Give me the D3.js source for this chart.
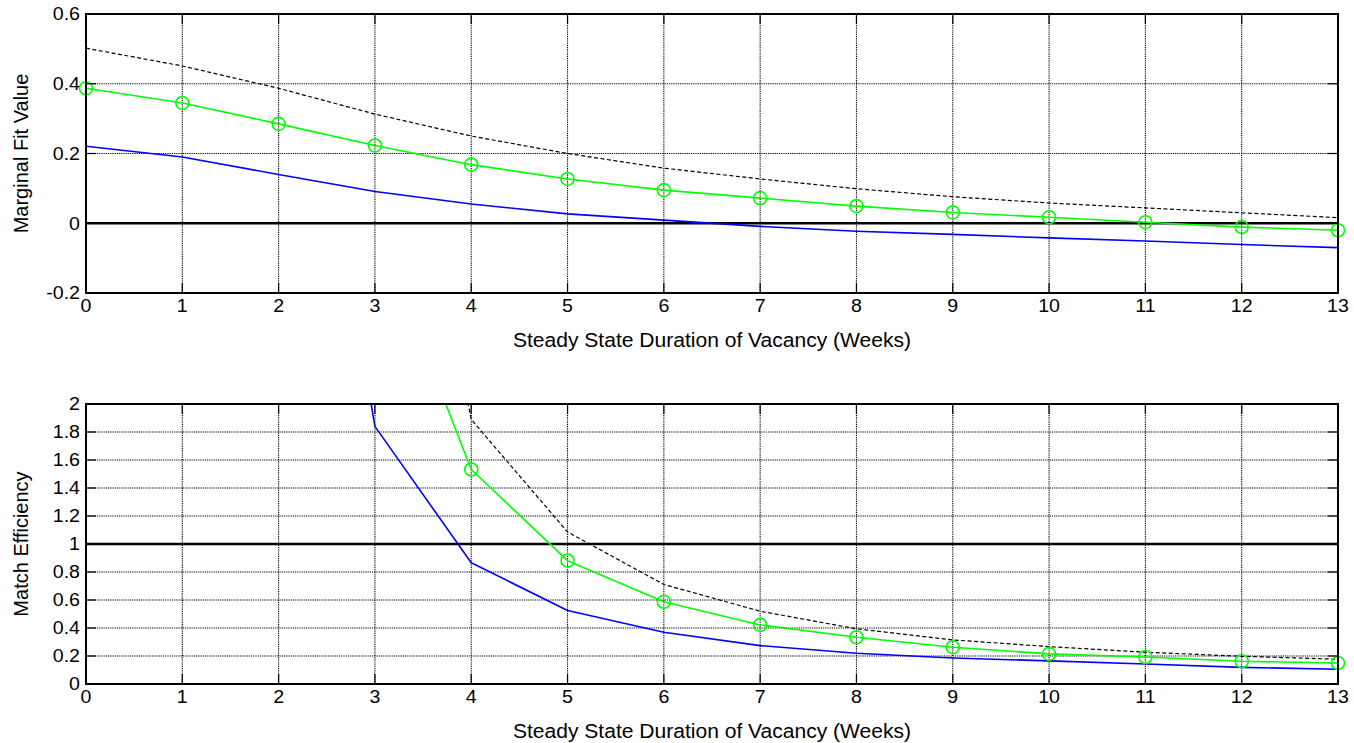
<!DOCTYPE html>
<html>
<head>
<meta charset="utf-8">
<script src="https://cdn.jsdelivr.net/npm/d3@7"></script>
<style>
  html, body { margin: 0; padding: 0; background: #fff; }
  svg { display: block; }
  text { font-family: "Liberation Sans", Arial, sans-serif; fill: #000; }
</style>
</head>
<body>
<svg id="chart" width="1354" height="743"></svg>
<script>
// Steady state duration of vacancy, in weeks
const weeks = [0, 1, 2, 3, 4, 5, 6, 7, 8, 9, 10, 11, 12, 13];

// Marginal fit value
const fitBlue  = [0.221, 0.190, 0.140, 0.091, 0.055, 0.027, 0.009, -0.009, -0.023, -0.032, -0.042, -0.051, -0.061, -0.070];
const fitGreen = [0.387, 0.345, 0.285, 0.223, 0.168, 0.127, 0.095, 0.072, 0.049, 0.031, 0.017, 0.003, -0.011, -0.020];
const fitBlack = [0.502, 0.451, 0.387, 0.313, 0.250, 0.200, 0.158, 0.127, 0.099, 0.076, 0.058, 0.044, 0.030, 0.016];

// Match efficiency
const effBlue  = [30, 14, 5.9, 1.84, 0.866, 0.525, 0.370, 0.274, 0.220, 0.186, 0.165, 0.143, 0.119, 0.105];
const effGreen = [40, 16, 7.0, 3.30, 1.532, 0.881, 0.587, 0.422, 0.334, 0.263, 0.215, 0.193, 0.162, 0.150];
const effBlack = [50, 20, 9.0, 5.30, 1.890, 1.086, 0.711, 0.520, 0.394, 0.315, 0.267, 0.227, 0.198, 0.177];

// Tick values
const xTicks = [0, 1, 2, 3, 4, 5, 6, 7, 8, 9, 10, 11, 12, 13];
const fitTicks = [-0.2, 0, 0.2, 0.4, 0.6];
const effTicks = [0, 0.2, 0.4, 0.6, 0.8, 1, 1.2, 1.4, 1.6, 1.8, 2];

const svg = d3.select("#chart");
const left = 86, right = 1338;
const tickFont = 17.5, tickStretch = 1.12;
const labelFont = 19.5, labelStretch = 1.08, yLabelFont = 20;
const fmt = v => d3.format("~g")(v).replace("\u2212", "-");

function panel(opts) {
  const { top, bottom, yDomain, yTicks, refLine, series, yLabel, id } = opts;
  const x = d3.scaleLinear().domain([0, 13]).range([left, right]);
  const y = d3.scaleLinear().domain(yDomain).range([bottom, top]);
  const g = svg.append("g");

  g.append("clipPath").attr("id", id)
    .append("rect").attr("x", left).attr("y", top)
    .attr("width", right - left).attr("height", bottom - top);

  // dotted grid
  const grid = g.append("g")
    .attr("stroke", "#000").attr("stroke-width", 1.1)
    .attr("stroke-dasharray", "1.2,1");
  grid.selectAll(".gx").data(xTicks).join("line")
    .attr("x1", d => x(d)).attr("x2", d => x(d))
    .attr("y1", top).attr("y2", bottom);
  grid.selectAll(".gy").data(yTicks).join("line")
    .attr("x1", left).attr("x2", right)
    .attr("y1", d => y(d)).attr("y2", d => y(d));

  // reference line
  g.append("line")
    .attr("x1", left).attr("x2", right)
    .attr("y1", y(refLine)).attr("y2", y(refLine))
    .attr("stroke", "#000").attr("stroke-width", 2.6);

  // series
  const line = d3.line().x((d, i) => x(weeks[i])).y(d => y(d));
  const plot = g.append("g").attr("clip-path", `url(#${id})`);
  series.forEach(s => {
    plot.append("path").datum(s.values)
      .attr("d", line).attr("fill", "none")
      .attr("stroke", s.color).attr("stroke-width", s.width)
      .attr("stroke-dasharray", s.dash || null)
      .attr("stroke-linejoin", "round");
  });
  series.filter(s => s.marker).forEach(s => {
    const pts = s.values.map((v, i) => [weeks[i], v])
      .filter(p => p[1] >= yDomain[0] && p[1] <= yDomain[1]);
    g.append("g").selectAll("circle").data(pts).join("circle")
      .attr("cx", d => x(d[0])).attr("cy", d => y(d[1])).attr("r", 6.5)
      .attr("fill", "none").attr("stroke", s.color).attr("stroke-width", 1.6);
  });

  // inward tick marks on all four sides
  const tl = 10;
  const ticks = g.append("g").attr("stroke", "#000").attr("stroke-width", 1.2);
  xTicks.forEach(t => {
    ticks.append("line").attr("x1", x(t)).attr("x2", x(t)).attr("y1", top).attr("y2", top + tl);
    ticks.append("line").attr("x1", x(t)).attr("x2", x(t)).attr("y1", bottom).attr("y2", bottom - tl);
  });
  yTicks.forEach(t => {
    ticks.append("line").attr("x1", left).attr("x2", left + tl).attr("y1", y(t)).attr("y2", y(t));
    ticks.append("line").attr("x1", right).attr("x2", right - tl).attr("y1", y(t)).attr("y2", y(t));
  });

  // axes box
  g.append("rect").attr("x", left).attr("y", top)
    .attr("width", right - left).attr("height", bottom - top)
    .attr("fill", "none").attr("stroke", "#000").attr("stroke-width", 2);

  // tick labels
  xTicks.forEach(t => {
    g.append("text")
      .attr("transform", `translate(${x(t)},${bottom + 19}) scale(${tickStretch},1)`)
      .attr("text-anchor", "middle").attr("font-size", tickFont).text(fmt(t));
  });
  yTicks.forEach(t => {
    g.append("text")
      .attr("transform", `translate(${left - 6},${y(t) + 6.3}) scale(${tickStretch},1)`)
      .attr("text-anchor", "end").attr("font-size", tickFont).text(fmt(t));
  });

  // axis titles
  g.append("text")
    .attr("transform", `translate(${(left + right) / 2},${bottom + 54}) scale(${labelStretch},1)`)
    .attr("text-anchor", "middle").attr("font-size", labelFont)
    .text("Steady State Duration of Vacancy (Weeks)");
  g.append("text")
    .attr("transform", `translate(28,${(top + bottom) / 2}) rotate(-90)`)
    .attr("text-anchor", "middle").attr("font-size", yLabelFont)
    .text(yLabel);
}

panel({
  id: "clipFit", top: 14, bottom: 293, yDomain: [-0.2, 0.6], yTicks: fitTicks, refLine: 0,
  yLabel: "Marginal Fit Value",
  series: [
    { values: fitBlack, color: "#000", width: 1.2, dash: "4,2.5" },
    { values: fitBlue, color: "#0000ff", width: 1.6 },
    { values: fitGreen, color: "#00ff00", width: 1.6, marker: true }
  ]
});

panel({
  id: "clipEff", top: 404, bottom: 684, yDomain: [0, 2], yTicks: effTicks, refLine: 1,
  yLabel: "Match Efficiency",
  series: [
    { values: effBlack, color: "#000", width: 1.2, dash: "4,2.5" },
    { values: effBlue, color: "#0000ff", width: 1.6 },
    { values: effGreen, color: "#00ff00", width: 1.6, marker: true }
  ]
});
</script>
</body>
</html>
